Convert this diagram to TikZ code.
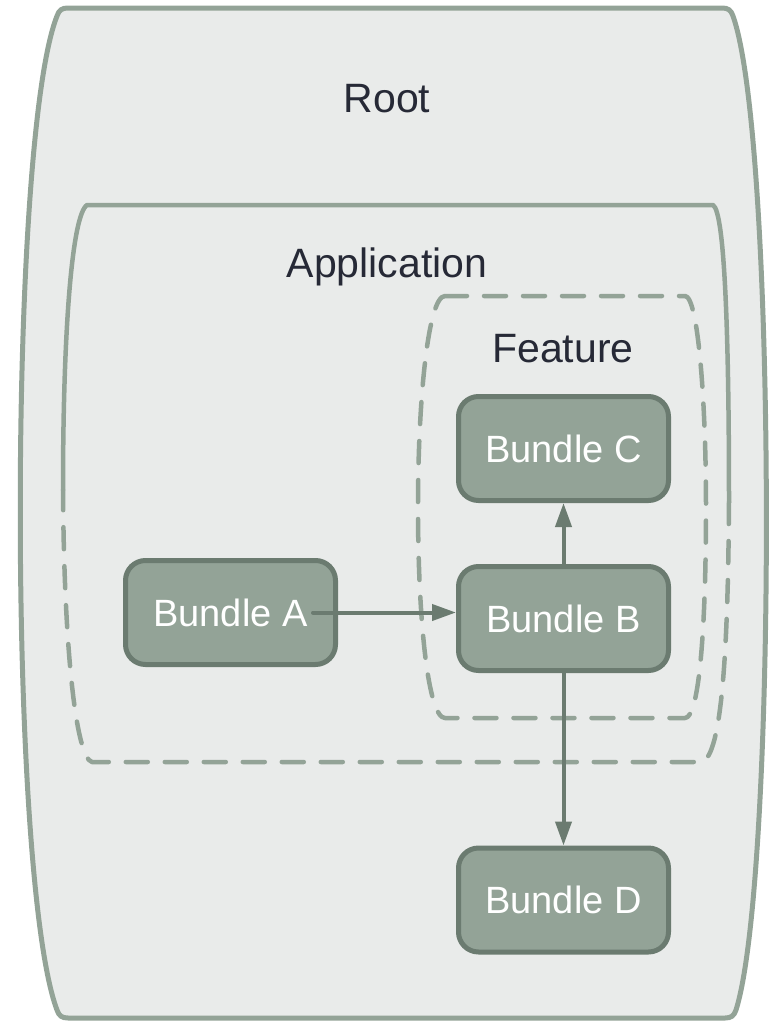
\documentclass[tikz,border=0pt]{standalone}
\usepackage{fontspec}
\setmainfont{Liberation Sans}
\usetikzlibrary{arrows.meta}

\definecolor{panel}{HTML}{E9EBEA}
\definecolor{rim}{HTML}{93A397}
\definecolor{bundlefill}{HTML}{93A397}
\definecolor{bundleline}{HTML}{6B7B70}
\definecolor{ink}{HTML}{262936}

\tikzset{
  rimline/.style = {draw = rim, line width = 4.5pt},
  dashrim/.style = {rimline, dash pattern = on 22pt off 17pt},
  bundle/.style = {draw = bundleline, fill = bundlefill, line width = 5pt,
    rounded corners = 20pt, minimum width = 210pt, minimum height = 104pt,
    text = white, font = \fontsize{38}{44}\selectfont},
  title/.style = {anchor = base, text = ink, font = \fontsize{41}{48}\selectfont},
  link/.style = {draw = bundleline, line width = 4pt,
    -{Triangle[length = 24pt, width = 16pt]}}
}

\begin{document}
\begin{tikzpicture}[x = 1pt, y = -1pt, line cap = round, line join = round]
  \useasboundingbox (0, 0) rectangle (771, 1021);

  % root container, corners rounded by hand
  \path[fill = panel, draw = rim, line width = 5pt]
    (68, 8) -- (722, 8) .. controls (728, 8) and (731, 10) .. (733, 16)
    .. controls (777, 140) and (777, 880) .. (736, 1010)
    .. controls (734, 1016) and (731, 1018) .. (725, 1018)
    -- (68, 1018) .. controls (62, 1018) and (59, 1016) .. (57, 1010)
    .. controls (8, 880) and (8, 140) .. (57, 16)
    .. controls (59, 10) and (62, 8) .. cycle;
  \node[title] (root) at (387, 112) {Root};

  % application: solid upper half, dashed lower half
  \draw[rimline] (63, 490) .. controls (63, 330) and (72, 215) .. (87, 205)
    -- (713, 205) .. controls (725, 212) and (729, 340) .. (729, 502);
  \draw[dashrim] (729, 502) .. controls (728, 650) and (722, 755) .. (702, 762)
    -- (92, 762) .. controls (76, 758) and (64, 650) .. (63, 490);
  \node[title] (app) at (387, 277) {Application};

  % feature
  \draw[dashrim] (445, 296) -- (685, 296)
    .. controls (698, 296) and (706, 400) .. (706, 507)
    .. controls (706, 620) and (700, 718) .. (685, 718) -- (445, 718)
    .. controls (428, 718) and (418, 620) .. (418, 507)
    .. controls (418, 400) and (428, 296) .. cycle;
  \node[title] (feat) at (563, 362) {Feature};

  \node[bundle] (A) at (230.5, 612.5) {Bundle A};
  \node[bundle] (B) at (563.5, 618.5) {Bundle B};
  \node[bundle] (C) at (563.5, 448.5) {Bundle C};
  \node[bundle] (D) at (563.5, 900) {Bundle D};

  \draw[link] ([xshift = -25pt]A.east) -- (A.east -| B.west);
  \draw[link] (B.north) -- (C.south);
  \draw[link] (B.south) -- (D.north);
\end{tikzpicture}
\end{document}
